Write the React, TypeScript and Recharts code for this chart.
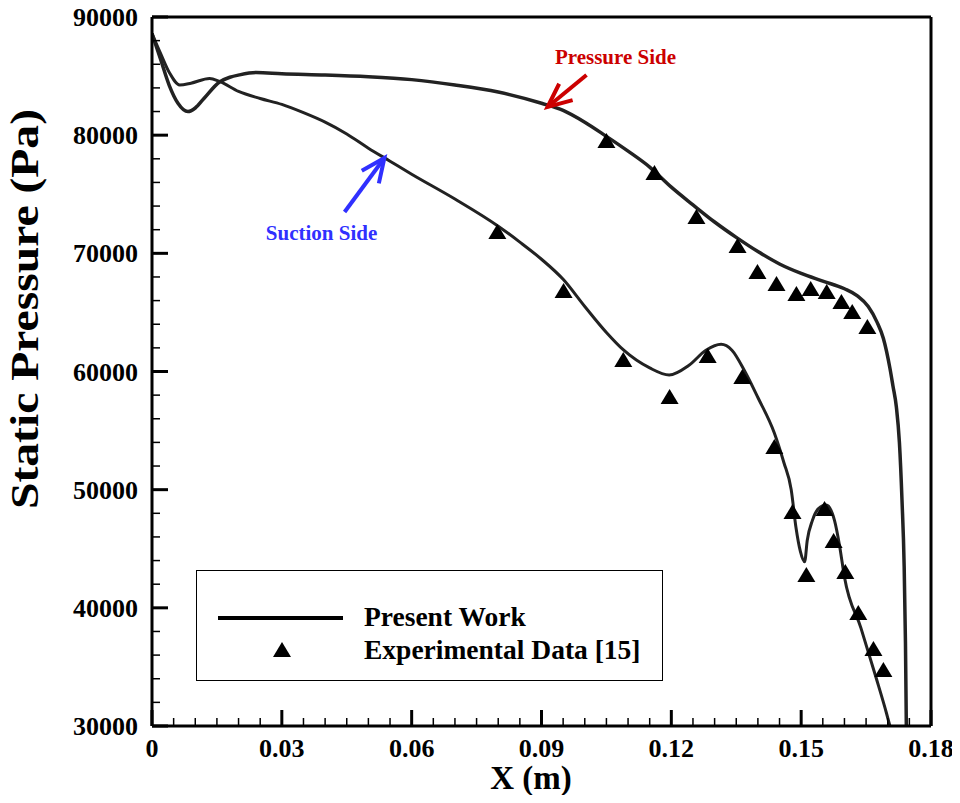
import React from "react";
import { ComposedChart, Line, Scatter, XAxis, YAxis, ReferenceLine } from "recharts";

// present work, pressure side
const pressureX = [0, 0.002, 0.004, 0.006, 0.0083, 0.01, 0.012, 0.0156, 0.018, 0.0202, 0.0241, 0.03, 0.04, 0.05, 0.06, 0.07, 0.08, 0.09, 0.095, 0.1, 0.105, 0.11, 0.115, 0.12, 0.125, 0.13, 0.135, 0.14, 0.145, 0.15, 0.155, 0.16, 0.163, 0.1655, 0.1675, 0.169, 0.1705, 0.1712, 0.172, 0.1727, 0.1733, 0.1738, 0.1741, 0.1743];
const pressureP = [88600, 86400, 84200, 82700, 82000, 82300, 83100, 84500, 84900, 85100, 85300, 85200, 85100, 84950, 84700, 84250, 83650, 82700, 82100, 81100, 79900, 78650, 77300, 75600, 74100, 72650, 71350, 70150, 69100, 68300, 67650, 67000, 66400, 65500, 64200, 62800, 60300, 58800, 57000, 54000, 49100, 43500, 37000, 30000];

// present work, suction side
const suctionX = [0, 0.002, 0.004, 0.0064, 0.009, 0.0133, 0.0156, 0.02, 0.025, 0.03, 0.035, 0.04, 0.045, 0.05, 0.055, 0.06, 0.07, 0.08, 0.085, 0.09, 0.095, 0.1, 0.105, 0.109, 0.115, 0.1195, 0.124, 0.128, 0.1315, 0.134, 0.137, 0.14, 0.1438, 0.146, 0.1477, 0.1488, 0.1498, 0.1508, 0.1514, 0.1526, 0.154, 0.1558, 0.1577, 0.1589, 0.16, 0.1638, 0.1673, 0.1697, 0.1705];
const suctionP = [88600, 86900, 85300, 84250, 84400, 84800, 84550, 83700, 83100, 82600, 81900, 81100, 80100, 78900, 77800, 76700, 74600, 72300, 70950, 69500, 67800, 65500, 63300, 61800, 60300, 59700, 60500, 61800, 62300, 61800, 60000, 57800, 54800, 52300, 50000, 46800, 44800, 43900, 45700, 47400, 48400, 48700, 47400, 45200, 42600, 38300, 34100, 31100, 30000];

// experimental data [15]
const expSuctionX = [0.0798, 0.0951, 0.1089, 0.1196, 0.1284, 0.1364, 0.1438, 0.148, 0.1512, 0.1554, 0.1575, 0.1602, 0.1632, 0.1667, 0.169];
const expSuctionP = [71720, 66730, 60890, 57760, 61230, 59450, 53530, 48020, 42690, 48280, 45570, 42950, 39480, 36430, 34650];
const expPressureX = [0.105, 0.1161, 0.1258, 0.1353, 0.1399, 0.1443, 0.1489, 0.1522, 0.1559, 0.1593, 0.1618, 0.1653];
const expPressureP = [79420, 76710, 72990, 70540, 68340, 67320, 66470, 66900, 66640, 65800, 64950, 63680];

const xLabels = [0, 0.03, 0.06, 0.09, 0.12, 0.15, 0.18];
const yLabels = [30000, 40000, 50000, 60000, 70000, 80000, 90000];
const xTicks = Array.from({ length: 37 }, (_, i) => (i * 5) / 1000);
const yTicks = Array.from({ length: 31 }, (_, i) => 30000 + i * 2000);

const pressureData = pressureX.map((x, i) => ({ x, p: pressureP[i] }));
const suctionData = suctionX.map((x, i) => ({ x, p: suctionP[i] }));
const expData = [
  ...expSuctionX.map((x, i) => ({ x, p: expSuctionP[i] })),
  ...expPressureX.map((x, i) => ({ x, p: expPressureP[i] })),
];

const FONT = "'Liberation Serif', 'Times New Roman', serif";

const isMajorX = (v: number) => xLabels.some((m) => Math.abs(m - v) < 1e-6);
const isMajorY = (v: number) => yLabels.includes(v);

const XTick = (props: any) => {
  const { x, y, payload } = props;
  const major = isMajorX(payload.value);
  return (
    <g>
      <line x1={x} x2={x} y1={y} y2={y - (major ? 16 : 8)} stroke="#000" strokeWidth={major ? 3 : 1.5} />
      {major && (
        <text x={x} y={y + 31} textAnchor="middle" fontFamily={FONT} fontWeight="bold" fontSize={26} fill="#000">
          {String(payload.value)}
        </text>
      )}
    </g>
  );
};

const YTick = (props: any) => {
  const { x, y, payload } = props;
  const major = isMajorY(payload.value);
  return (
    <g>
      <line x1={x} x2={x + (major ? 16 : 8)} y1={y} y2={y} stroke="#000" strokeWidth={major ? 3 : 1.5} />
      {major && (
        <text x={x - 14} y={y + 9} textAnchor="end" fontFamily={FONT} fontWeight="bold" fontSize={26} fill="#000">
          {payload.value}
        </text>
      )}
    </g>
  );
};

const Triangle = (props: any) => {
  const { cx, cy } = props;
  return <polygon points={`${cx},${cy - 9} ${cx + 9},${cy + 6} ${cx - 9},${cy + 6}`} fill="#000" />;
};

// arrow with open head at the second point, plus its caption
const arrow = (color: string, text: string, dx: number, dy: number) => (p: any) => {
  const { x1, y1, x2, y2 } = p;
  const ang = Math.atan2(y1 - y2, x1 - x2);
  const len = 26;
  const w1 = { x: x2 + len * Math.cos(ang + 0.42), y: y2 + len * Math.sin(ang + 0.42) };
  const w2 = { x: x2 + len * Math.cos(ang - 0.42), y: y2 + len * Math.sin(ang - 0.42) };
  return (
    <g>
      <line x1={x1} y1={y1} x2={x2} y2={y2} stroke={color} strokeWidth={4} />
      <polyline points={`${w1.x},${w1.y} ${x2},${y2} ${w2.x},${w2.y}`} fill="none" stroke={color} strokeWidth={4} />
      <text x={x1 + dx} y={y1 + dy} textAnchor="middle" fontFamily={FONT} fontWeight="bold" fontSize={21} fill={color}>
        {text}
      </text>
    </g>
  );
};

const LegendBox = () => (
  <div
    style={{
      position: "absolute",
      left: 196,
      top: 570,
      width: 467,
      height: 111,
      border: "1.5px solid #000",
      boxSizing: "border-box",
      background: "#fff",
    }}
  >
    <svg width={467} height={111} style={{ position: "absolute", left: 0, top: 0 }}>
      <line x1={21} x2={146} y1={47} y2={47} stroke="#000" strokeWidth={4} />
      <text x={167} y={55} fontFamily={FONT} fontWeight="bold" fontSize={27.5} fill="#000">
        Present Work
      </text>
      <Triangle cx={85} cy={80} />
      <text x={167} y={88} fontFamily={FONT} fontWeight="bold" fontSize={27.5} fill="#000">
        Experimental Data [15]
      </text>
    </svg>
  </div>
);

export default function App() {
  return (
    <div style={{ position: "relative", marginTop: -8, marginLeft: -8, width: 960, height: 795 }}>
      <ComposedChart width={960} height={803} margin={{ top: 17, right: 29, left: 8, bottom: 0 }}>
        <XAxis
          type="number"
          dataKey="x"
          domain={[0, 0.18]}
          ticks={xTicks}
          interval={0}
          allowDataOverflow
          height={77}
          tickSize={0}
          tickMargin={0}
          tickLine={false}
          tick={<XTick />}
          axisLine={{ stroke: "#000", strokeWidth: 3 }}
          label={() => (
            <text x={531} y={789} textAnchor="middle" fontFamily={FONT} fontWeight="bold" fontSize={33} fill="#000">
              X (m)
            </text>
          )}
        />
        <YAxis
          type="number"
          dataKey="p"
          domain={[30000, 90000]}
          ticks={yTicks}
          interval={0}
          allowDataOverflow
          width={144}
          tickSize={0}
          tickMargin={0}
          tickLine={false}
          tick={<YTick />}
          axisLine={{ stroke: "#000", strokeWidth: 3 }}
          label={() => (
            <text
              x={38}
              y={309}
              transform="rotate(-90, 38, 309)"
              textAnchor="middle"
              fontFamily={FONT}
              fontWeight="bold"
              fontSize={39}
              textLength={400}
              lengthAdjust="spacingAndGlyphs"
              fill="#000"
            >
              Static Pressure (Pa)
            </text>
          )}
        />
        <ReferenceLine x={0.18} stroke="#000" strokeWidth={3} />
        <ReferenceLine y={90000} stroke="#000" strokeWidth={3} />
        <Line data={pressureData} dataKey="p" type="monotone" stroke="#222" strokeWidth={3.5} dot={false} isAnimationActive={false} />
        <Line data={suctionData} dataKey="p" type="monotone" stroke="#222" strokeWidth={3} dot={false} isAnimationActive={false} />
        <Scatter data={expData} dataKey="p" shape={<Triangle />} isAnimationActive={false} />
        <ReferenceLine
          segment={[{ x: 0.1004, y: 85092 }, { x: 0.0914, y: 82383 }]}
          shape={arrow("#cc0000", "Pressure Side", 29, -11)}
        />
        <ReferenceLine
          segment={[{ x: 0.0445, y: 73497 }, { x: 0.0537, y: 78067 }]}
          shape={arrow("#3030ff", "Suction Side", -23, 28)}
        />
      </ComposedChart>
      <LegendBox />
    </div>
  );
}
